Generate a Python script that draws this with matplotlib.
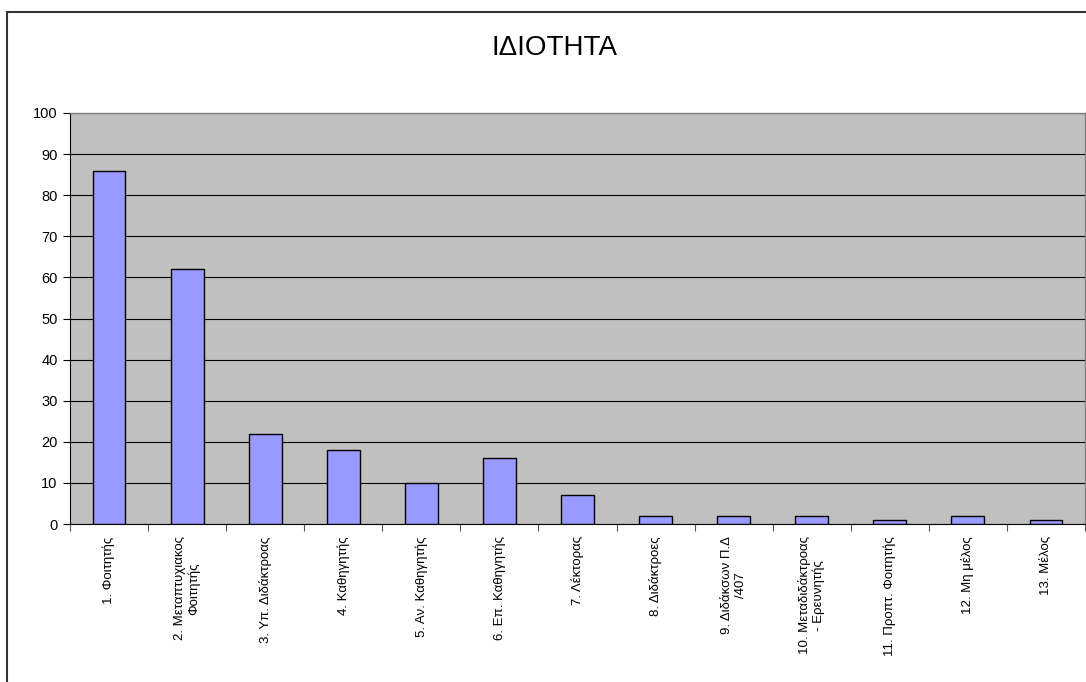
import matplotlib
matplotlib.use("Agg")
import matplotlib.pyplot as plt
from matplotlib.patches import Rectangle

categories = [
    "1. Φοιτητής",
    "2. Μεταπτυχιακος\nΦοιτητής",
    "3. Υπ. Διδάκτροας",
    "4. Καθηγητής",
    "5. Αν. Καθηγητής",
    "6. Επ. Καθηγητής",
    "7. Λέκτορας",
    "8. Διδάκτροες",
    "9. Διδάκσων Π.Δ\n/407",
    "10. Μεταδιδάκτροας\n- Ερευνητής",
    "11. Προπτ. Φοιτητής",
    "12. Μη μέλος",
    "13. Μέλος",
]
values = [86, 62, 22, 18, 10, 16, 7, 2, 2, 2, 1, 2, 1]
yticks = list(range(0, 101, 10))
title = "ΙΔΙΟΤΗΤΑ"

plt.rcParams['font.family'] = ['Liberation Sans', 'DejaVu Sans']

W, H = 1086, 682
fig = plt.figure(figsize=(W / 100, H / 100), dpi=100)
fig.patch.set_facecolor('white')

# outer chart border
fig.patches.append(Rectangle((7 / W, -0.5), 2.0, 1 - 12 / H + 0.5,
                             transform=fig.transFigure, fill=False,
                             edgecolor='#333333', linewidth=1.5))

left, right, top, bottom = 70, 1085, 113, 524
ax = fig.add_axes([left / W, 1 - bottom / H, (right - left) / W, (bottom - top) / H])
ax.set_facecolor('#C0C0C0')

x = list(range(len(categories)))
ax.bar(x, values, width=0.42, color='#9999FF', edgecolor='black', linewidth=1.0, zorder=3)

ax.set_xlim(-0.5, len(categories) - 0.5)
ax.set_ylim(0, 100)
ax.set_yticks(yticks)
ax.set_yticklabels([str(v) for v in yticks], fontsize=10.5)
ax.yaxis.grid(True, color='black', linewidth=0.8, zorder=1)
ax.set_axisbelow(True)

ax.set_xticks([i + 0.5 for i in range(-1, len(categories))], minor=False)
ax.set_xticklabels([])
ax.tick_params(axis='x', length=5, width=0.8, color='#555555', direction='out')
ax.tick_params(axis='y', length=5, width=0.8, color='black', direction='out', pad=4)
for i, lab in enumerate(categories):
    ax.text(i, -3, lab, rotation=90, ha='center', va='top', fontsize=9.5,
            multialignment='center', transform=ax.transData, clip_on=False)

for s in ['top', 'right']:
    ax.spines[s].set_color('#808080')
    ax.spines[s].set_linewidth(1.0)
ax.spines['left'].set_color('black')
ax.spines['bottom'].set_color('black')

fig.text(555 / W, 1 - 48 / H, title, ha='center', va='center', fontsize=20)

fig.savefig('out.png', dpi=100)
